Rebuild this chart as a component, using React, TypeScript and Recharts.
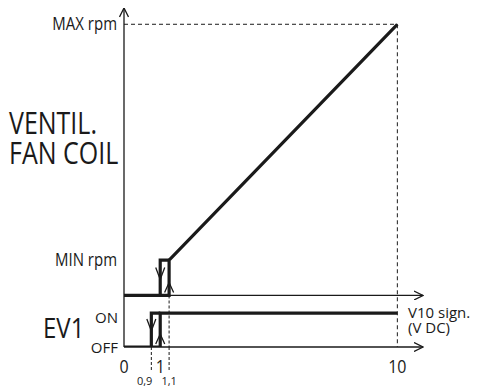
import { ComposedChart, Line, XAxis, YAxis, ReferenceLine } from "recharts";

// fan speed (% of MAX rpm) against the 0-10 V control signal
const fanRising = [
  { v: 0, fan: 0 },
  { v: 1.1, fan: 0 },
  { v: 1.1, fan: 13 },
  { v: 10, fan: 100 },
];
const fanFalling = [
  { v: 1.1, fan: 13 },
  { v: 1.0, fan: 13 },
  { v: 1.0, fan: 0 },
];

// EV1 valve state (0 = OFF, 1 = ON)
const evRising = [
  { v: 0, ev: 0 },
  { v: 1.0, ev: 0 },
  { v: 1.0, ev: 1 },
  { v: 10, ev: 1 },
];
const evFalling = [
  { v: 1.0, ev: 1 },
  { v: 0.9, ev: 1 },
  { v: 0.9, ev: 0 },
];

const xTicks = [0, 0.9, 1, 1.1, 10];
const xMinorTicks = [0.9, 1.1];
const fanTicks = [13, 100];
const fanTickLabels = ["MIN rpm", "MAX rpm"];
const evTicks = [0, 1];
const evTickLabels = ["OFF", "ON"];

const xDomain = [0, 11];
const fanDomain = [-19, 106];
const evDomain = [0, 10];

const FONT = "'Open Sans', sans-serif";
const INK = "#1a1a1a";

// the drawing is not to scale: the 0.9..1.1 V hysteresis band is widened
const warpKnots = [
  [0, 0],
  [0.9, 1.0],
  [1.1, 1.65],
  [10, 10],
];

function warp(v: number) {
  let i = 1;
  while (i < warpKnots.length - 1 && v > warpKnots[i][0]) i++;
  const [x0, y0] = warpKnots[i - 1];
  const [x1, y1] = warpKnots[i];
  return y0 + ((v - x0) * (y1 - y0)) / (x1 - x0);
}

function unwarp(s: number) {
  let i = 1;
  while (i < warpKnots.length - 1 && s > warpKnots[i][1]) i++;
  const [x0, y0] = warpKnots[i - 1];
  const [x1, y1] = warpKnots[i];
  return x0 + ((s - y0) * (x1 - x0)) / (y1 - y0);
}

function stretchScale(dom: number[] = [0, 1], rng: number[] = [0, 1]): any {
  const s: any = (v: number) => {
    const a = warp(dom[0]);
    const b = warp(dom[dom.length - 1]);
    return rng[0] + ((warp(+v) - a) / (b - a)) * (rng[rng.length - 1] - rng[0]);
  };
  s.domain = (d?: number[]) => {
    if (d === undefined) return dom.slice();
    dom = d.map(Number);
    return s;
  };
  s.range = (r?: number[]) => {
    if (r === undefined) return rng.slice();
    rng = r.map(Number);
    return s;
  };
  s.invert = (p: number) => {
    const a = warp(dom[0]);
    const b = warp(dom[dom.length - 1]);
    return unwarp(a + ((p - rng[0]) / (rng[rng.length - 1] - rng[0])) * (b - a));
  };
  s.copy = () => stretchScale(dom, rng);
  s.ticks = () => xTicks.slice();
  s.tickFormat = () => (v: number) => String(v);
  s.clamp = () => s;
  s.nice = () => s;
  return s;
}

const xScale = stretchScale(xDomain);

// small chevrons on the hysteresis edges
const hystArrow = (dir: "up" | "down", at: number) => (p: any) => {
  const k = `${dir}-${p.index}`;
  if (p.index !== at) return <g key={k} />;
  const { cx, cy } = p;
  const d =
    dir === "up"
      ? `M${cx - 4.5},${cy - 3} L${cx},${cy - 13} L${cx + 4.5},${cy - 3}`
      : `M${cx - 4.5},${cy - 28} L${cx},${cy - 16} L${cx + 4.5},${cy - 28}`;
  return <path key={k} d={d} fill="none" stroke={INK} strokeWidth={1.3} />;
};

const axisShape = (vertical: boolean) => (p: any) => {
  const x1 = vertical ? p.x1 : Math.min(p.x1, p.x2);
  const x2 = vertical ? p.x2 : Math.max(p.x1, p.x2);
  const y1 = vertical ? Math.max(p.y1, p.y2) : p.y1;
  const y2 = vertical ? Math.min(p.y1, p.y2) : p.y2;
  return (
    <line x1={x1} y1={y1} x2={x2} y2={y2} stroke={INK} strokeWidth={1.3} markerEnd="url(#arrowHead)" />
  );
};

const FanTick = (p: any) => (
  <text
    transform={`translate(124,${p.y + 6}) scale(1,1.2)`}
    x={-7}
    textAnchor="end"
    fontSize={15}
    fontFamily={FONT}
    fill={INK}
  >
    {fanTickLabels[fanTicks.indexOf(p.payload.value)]}
  </text>
);

const EvTick = (p: any) => {
  const i = evTicks.indexOf(p.payload.value);
  return (
    <text
      x={118}
      y={p.y + (i === evTicks.length - 1 ? 10 : 5.5)}
      textAnchor="end"
      fontSize={15}
      fontFamily={FONT}
      fill={INK}
    >
      {evTickLabels[i]}
    </text>
  );
};

const VoltTick = (p: any) => {
  const v = p.payload.value;
  const label = String(v).replace(".", ",");
  const m = xMinorTicks.indexOf(v);
  if (m >= 0) {
    return (
      <g>
        <line x1={p.x} x2={p.x} y1={p.y} y2={p.y + 25} stroke={INK} strokeDasharray="3 2" />
        <text
          x={m === 0 ? p.x + 1 : p.x}
          y={p.y + 38}
          textAnchor={m === 0 ? "end" : "middle"}
          fontSize={11}
          fontFamily={FONT}
          fill={INK}
        >
          {label}
        </text>
      </g>
    );
  }
  return (
    <text
      transform={`translate(${p.x},${p.y + 26}) scale(1,1.1)`}
      textAnchor="middle"
      fontSize={16}
      fontFamily={FONT}
      fill={INK}
    >
      {label}
    </text>
  );
};

export default function App() {
  return (
    <div style={{ position: "absolute", left: 0, top: 0, width: 479, height: 390, background: "#fff" }}>
      <svg width={0} height={0} style={{ position: "absolute" }}>
        <defs>
          <marker
            id="arrowHead"
            viewBox="0 0 10 10"
            markerWidth={10}
            markerHeight={10}
            markerUnits="userSpaceOnUse"
            refX={9.5}
            refY={5}
            orient="auto"
          >
            <path d="M0.5,0.5 L9.5,5 L0.5,9.5" fill="none" stroke={INK} strokeWidth={1.3} />
          </marker>
        </defs>
      </svg>
      <ComposedChart width={479} height={390} margin={{ top: 8, right: 56, bottom: 13, left: 114 }}>
        <XAxis
          dataKey="v"
          type="number"
          scale={xScale}
          domain={xDomain}
          allowDataOverflow
          ticks={xTicks}
          interval={0}
          height={30}
          axisLine={false}
          tickLine={false}
          tickSize={0}
          tickMargin={0}
          tick={<VoltTick />}
        />
        <YAxis
          yAxisId="fan"
          type="number"
          domain={fanDomain}
          allowDataOverflow
          ticks={fanTicks}
          interval={0}
          width={5}
          axisLine={false}
          tickLine={false}
          tick={<FanTick />}
        />
        <YAxis
          yAxisId="ev"
          type="number"
          domain={evDomain}
          allowDataOverflow
          ticks={evTicks}
          interval={0}
          width={5}
          axisLine={false}
          tickLine={false}
          tick={<EvTick />}
        />

        <ReferenceLine yAxisId="fan" x={0} ifOverflow="visible" shape={axisShape(true)} />
        <ReferenceLine yAxisId="fan" y={0} ifOverflow="visible" shape={axisShape(false)} />
        <ReferenceLine yAxisId="ev" y={0} ifOverflow="visible" shape={axisShape(false)} />

        <ReferenceLine
          yAxisId="fan"
          segment={[{ x: 0, y: 100 }, { x: 10, y: 100 }]}
          stroke={INK}
          strokeWidth={1}
          strokeDasharray="4 3"
          ifOverflow="visible"
        />
        <ReferenceLine
          yAxisId="fan"
          segment={[{ x: 10, y: 100 }, { x: 10, y: fanDomain[0] }]}
          stroke={INK}
          strokeWidth={1}
          strokeDasharray="4 3"
          ifOverflow="visible"
        />
        <ReferenceLine
          yAxisId="fan"
          segment={[{ x: 1.1, y: 0 }, { x: 1.1, y: fanDomain[0] }]}
          stroke={INK}
          strokeWidth={1}
          strokeDasharray="3 2"
          ifOverflow="visible"
        />

        <Line
          yAxisId="fan"
          data={fanRising}
          dataKey="fan"
          type="linear"
          stroke={INK}
          strokeWidth={3.2}
          dot={hystArrow("up", 1)}
          activeDot={false}
          isAnimationActive={false}
        />
        <Line
          yAxisId="fan"
          data={fanFalling}
          dataKey="fan"
          type="linear"
          stroke={INK}
          strokeWidth={3.2}
          dot={hystArrow("down", 2)}
          activeDot={false}
          isAnimationActive={false}
        />
        <Line
          yAxisId="ev"
          data={evRising}
          dataKey="ev"
          type="linear"
          stroke={INK}
          strokeWidth={3.2}
          dot={hystArrow("up", 1)}
          activeDot={false}
          isAnimationActive={false}
        />
        <Line
          yAxisId="ev"
          data={evFalling}
          dataKey="ev"
          type="linear"
          stroke={INK}
          strokeWidth={3.2}
          dot={hystArrow("down", 2)}
          activeDot={false}
          isAnimationActive={false}
        />

        <text transform="translate(9,134) scale(1,1.27)" fontSize={25} fontFamily={FONT} fill={INK}>
          VENTIL.
        </text>
        <text transform="translate(9,164) scale(1,1.27)" fontSize={25} fontFamily={FONT} fill={INK}>
          FAN COIL
        </text>
        <text transform="translate(43,338) scale(1,1.15)" fontSize={24} fontFamily={FONT} fill={INK}>
          EV1
        </text>
        <text x={408} y={318} fontSize={15} fontFamily={FONT} fill={INK}>
          V10 sign.
        </text>
        <text x={408} y={333} fontSize={15} fontFamily={FONT} fill={INK}>
          (V DC)
        </text>
      </ComposedChart>
    </div>
  );
}
